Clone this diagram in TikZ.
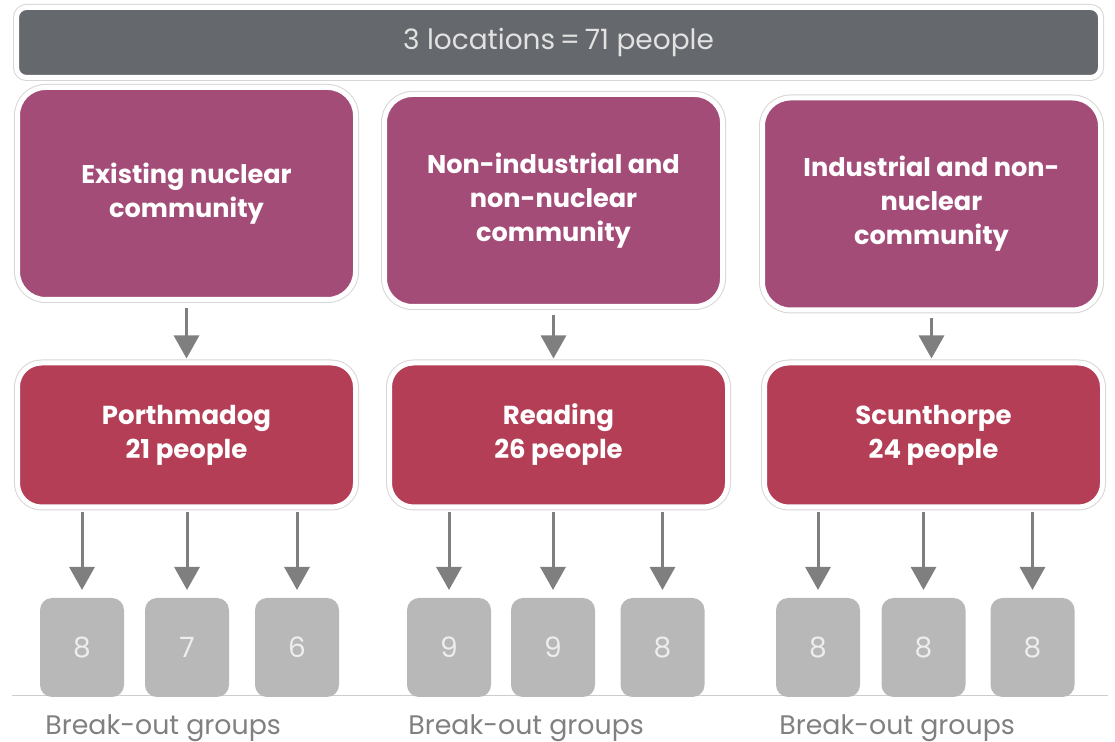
\documentclass[tikz,border=0pt]{standalone}
\usepackage{fontspec}
\setmainfont{Poppins}
\usetikzlibrary{
  arrows.meta,
  positioning,  % Function "of" (e.g. [right=of x])
}
\definecolor{barcol}{HTML}{65686C}
\definecolor{bartext}{HTML}{E2E2E2}
\definecolor{commcol}{HTML}{A44C78}
\definecolor{loccol}{HTML}{B33E55}
\definecolor{grpcol}{HTML}{B8B8B8}
\definecolor{grptext}{HTML}{EEEEEE}
\definecolor{arrowcol}{HTML}{7F7F7F}
\definecolor{labelcol}{HTML}{808080}
\definecolor{edgecol}{HTML}{D6D6D6}
\def\myboxwidth{169pt}
\tikzset{
  >={Triangle[width=12.5pt,length=11.5pt]},
  framed/.style={
    draw=white,
    line width=2.5pt,
    preaction={draw=edgecol, line width=3.5pt},
    outer sep=0pt,
    inner sep=0pt
  },
  my bar/.style={
    framed,
    fill=barcol,
    text=bartext,
    rounded corners=5pt,
    minimum width=542pt,
    minimum height=35pt,
    font=\fontsize{14}{16}\selectfont
  },
  my community/.style={
    framed,
    fill=commcol,
    text=white,
    align=center,
    rounded corners=14pt,
    minimum width=\myboxwidth,
    minimum height=106pt,
    font=\fontsize{12.8}{17}\selectfont\bfseries
  },
  my location/.style={
    framed,
    fill=loccol,
    text=white,
    align=center,
    rounded corners=12pt,
    minimum width=\myboxwidth,
    minimum height=72pt,
    font=\fontsize{13}{17}\selectfont\bfseries
  },
  my group/.style={
    fill=grpcol,
    text=grptext,
    rounded corners=6pt,
    minimum width=42pt,
    minimum height=49.5pt,
    outer sep=0pt,
    font=\fontsize{14}{16}\selectfont
  },
  my label/.style={
    anchor=base west,
    inner sep=0pt,
    text=labelcol,
    font=\fontsize{13.4}{16}\selectfont
  },
  my rule/.style={
    draw=edgecol!90!gray,
    line width=0.5pt
  },
  my arrow/.style={
    ->,
    color=arrowcol,
    line width=1.5pt
  },
  short/.style={
    shorten <=4.25pt,
    shorten >=2.25pt
  },
  long/.style={
    shorten <=2.75pt,
    shorten >=4pt
  }
}

\begin{document}
\begin{tikzpicture}[x=0.5pt,y=-0.5pt]
\useasboundingbox (0,0) rectangle (1115,742);

\draw[my rule] (12,696) -- (1108,696);

\node[my bar] (total) at (558.5,42.5) {3 locations\,=\,71 people};

\node[my community] (c1) at (186.5,193.5) {Existing nuclear\\community};
\node[my community] (c2) at (553.5,200.5) {Non-industrial and\\non-nuclear\\community};
\node[my community] (c3) at (931.5,204)   {Industrial and non-\\nuclear\\community};

\node[my location] (l1) at (186.5,435) {Porthmadog\\21 people};
\node[my location] (l2) at (558.5,435) {Reading\\26 people};
\node[my location] (l3) at (933.5,435) {Scunthorpe\\24 people};

\node[my group] (g11) at (82,647.5)   {8};
\node[my group] (g12) at (187,647.5)  {7};
\node[my group] (g13) at (297,647.5)  {6};
\node[my group] (g21) at (449,647.5)  {9};
\node[my group] (g22) at (553,647.5)  {9};
\node[my group] (g23) at (662.5,647.5){8};
\node[my group] (g31) at (818,647.5)  {8};
\node[my group] (g32) at (923.5,647.5){8};
\node[my group] (g33) at (1032.5,647.5){8};

\node[my label] (b1) at (45,735)  {Break-out groups};
\node[my label] (b2) at (408,735) {Break-out groups};
\node[my label] (b3) at (779,735) {Break-out groups};

\path[my arrow] (c1.south) edge[short] (c1.south |- l1.north)
                (c2.south) edge[short] (c2.south |- l2.north)
                (c3.south) edge[short] (c3.south |- l3.north);
\path[my arrow] (l1.south -| g11.north) edge[long] (g11)
                (l1.south -| g12.north) edge[long] (g12)
                (l1.south -| g13.north) edge[long] (g13)
                (l2.south -| g21.north) edge[long] (g21)
                (l2.south -| g22.north) edge[long] (g22)
                (l2.south -| g23.north) edge[long] (g23)
                (l3.south -| g31.north) edge[long] (g31)
                (l3.south -| g32.north) edge[long] (g32)
                (l3.south -| g33.north) edge[long] (g33);
\end{tikzpicture}
\end{document}
